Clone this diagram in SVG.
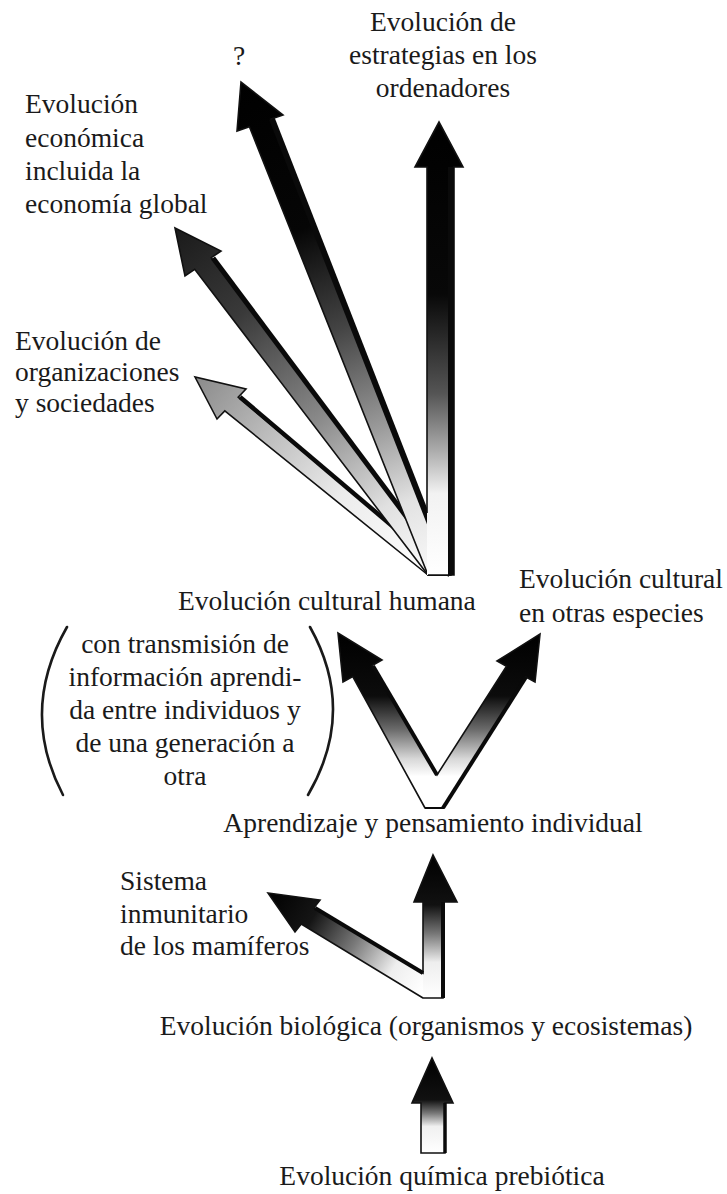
<svg xmlns="http://www.w3.org/2000/svg" width="727" height="1194" viewBox="0 0 727 1194">
<style>
.t{font-family:"Liberation Serif","Times New Roman",serif;font-size:27.5px;fill:#1a1a1a}
.m{text-anchor:middle}
.ol{fill:none;stroke:#111;stroke-width:1.6;stroke-linejoin:miter}
.th{fill:none;stroke:#0a0a0a;stroke-linecap:butt}
.nf{stroke:none}
.par{fill:none;stroke:#1a1a1a;stroke-width:2.6;stroke-linecap:round}
</style>
<defs>
<linearGradient id="gO" gradientUnits="userSpaceOnUse" x1="195" y1="377" x2="439" y2="575">
<stop offset="0" stop-color="#8a8a8a"/><stop offset="0.3" stop-color="#bdbdbd"/><stop offset="0.6" stop-color="#ececec"/><stop offset="1" stop-color="#fff"/>
</linearGradient>
<linearGradient id="gE" gradientUnits="userSpaceOnUse" x1="175" y1="228" x2="439" y2="575">
<stop offset="0" stop-color="#1a1a1a"/><stop offset="0.25" stop-color="#3a3a3a"/><stop offset="0.55" stop-color="#8a8a8a"/><stop offset="0.8" stop-color="#e0e0e0"/><stop offset="1" stop-color="#fff"/>
</linearGradient>
<linearGradient id="gQ" gradientUnits="userSpaceOnUse" x1="241" y1="82" x2="439" y2="575">
<stop offset="0" stop-color="#000"/><stop offset="0.3" stop-color="#060606"/><stop offset="0.5" stop-color="#444"/><stop offset="0.7" stop-color="#9a9a9a"/><stop offset="0.85" stop-color="#e2e2e2"/><stop offset="1" stop-color="#fafafa"/>
</linearGradient>
<linearGradient id="gV" gradientUnits="userSpaceOnUse" x1="0" y1="122" x2="0" y2="575">
<stop offset="0" stop-color="#000"/><stop offset="0.38" stop-color="#080808"/><stop offset="0.6" stop-color="#555"/><stop offset="0.72" stop-color="#a8a8a8"/><stop offset="0.82" stop-color="#f2f2f2"/><stop offset="1" stop-color="#fff"/>
</linearGradient>
<linearGradient id="gM" gradientUnits="userSpaceOnUse" x1="0" y1="633" x2="0" y2="808">
<stop offset="0" stop-color="#000"/><stop offset="0.36" stop-color="#0c0c0c"/><stop offset="0.55" stop-color="#6a6a6a"/><stop offset="0.72" stop-color="#d8d8d8"/><stop offset="0.82" stop-color="#fff"/><stop offset="1" stop-color="#fff"/>
</linearGradient>
<linearGradient id="gBV" gradientUnits="userSpaceOnUse" x1="0" y1="855" x2="0" y2="998">
<stop offset="0" stop-color="#000"/><stop offset="0.35" stop-color="#111"/><stop offset="0.55" stop-color="#777"/><stop offset="0.75" stop-color="#eee"/><stop offset="1" stop-color="#fff"/>
</linearGradient>
<linearGradient id="gBL" gradientUnits="userSpaceOnUse" x1="268" y1="893" x2="423" y2="990">
<stop offset="0" stop-color="#000"/><stop offset="0.28" stop-color="#151515"/><stop offset="0.55" stop-color="#7a7a7a"/><stop offset="0.8" stop-color="#eee"/><stop offset="1" stop-color="#fff"/>
</linearGradient>
<linearGradient id="gB" gradientUnits="userSpaceOnUse" x1="0" y1="1058" x2="0" y2="1153">
<stop offset="0" stop-color="#000"/><stop offset="0.44" stop-color="#111"/><stop offset="0.58" stop-color="#777"/><stop offset="0.72" stop-color="#f0f0f0"/><stop offset="1" stop-color="#fff"/>
</linearGradient>
</defs>
<rect width="727" height="1194" fill="#fff"/>

<g id="connectors">
  <g id="fan">
    <polygon fill="url(#gO)" class="nf" points="428,575 224.8,410.9 217,419 195,377 246,389 238.2,397.1 450,575"/>
    <polygon class="ol" points="428,575 224.8,410.9 217,419 195,377 246,389 238.2,397.1 450,575"/>
    <line class="th" stroke-width="4.5" x1="240" y1="397" x2="450" y2="575"/>
    <polygon fill="url(#gE)" class="nf" points="428,575 194.7,269.3 185,276 175,228 221,251 211.3,257.7 450,575"/>
    <polygon class="ol" points="428,575 194.7,269.3 185,276 175,228 221,251 211.3,257.7 450,575"/>
    <line class="th" stroke-width="5" x1="213" y1="258" x2="450" y2="575"/>
    <polygon fill="url(#gQ)" class="nf" points="428,575 249.4,126.7 237,131 241,82 283,115 270.6,119.3 450,575"/>
    <polygon class="ol" points="428,575 249.4,126.7 237,131 241,82 283,115 270.6,119.3 450,575"/>
    <line class="th" stroke-width="6" x1="272" y1="119" x2="450" y2="575"/>
    <polygon fill="url(#gV)" class="nf" points="427,575 427,167 415,167 439,122 463,167 454,167 454,575"/>
    <path class="ol" d="M427,513 L427,167 L415,167 L439,122 L463,167 L454,167 L454,575 L428,575"/>
    <line class="th" stroke-width="6" x1="451" y1="167" x2="451" y2="575"/>
  </g>
  <g id="v-arrows">
    <polygon fill="url(#gM)" class="nf" points="425,808 352.75,676.5 343,682 338,633 382,660 372.25,665.5 437,775 506.5,666.25 497,661 540,634 535,682 525.5,676.75 443,808"/>
    <polygon class="ol" points="425,808 352.75,676.5 343,682 338,633 382,660 372.25,665.5 437,775 506.5,666.25 497,661 540,634 535,682 525.5,676.75 443,808"/>
    <line class="th" stroke-width="4" x1="373" y1="666" x2="437" y2="775"/>
    <line class="th" stroke-width="4" x1="526" y1="677" x2="443" y2="808"/>
    <line class="th" stroke-width="2" x1="425" y1="808" x2="444" y2="808"/>
  </g>
  <g id="l-arrows">
    <polygon fill="url(#gBL)" class="nf" points="423,998 301.25,924 295,932 268,893 320,900 313.75,908 423,973 433,973 433,998"/>
    <polygon fill="url(#gBV)" class="nf" points="423,998 423,902 414,902 433,855 457,902 443,902 443,998"/>
    <path class="ol" d="M423,998 L301.25,924 L295,932 L268,893 L320,900 L313.75,908 L423,973 L423,902 L414,902 L433,855 L457,902 L443,902 L443,998 Z"/>
    <line class="th" stroke-width="4" x1="315" y1="908" x2="423" y2="973"/>
    <line class="th" stroke-width="4" x1="443" y1="902" x2="443" y2="998"/>
  </g>
  <g id="bottom-arrow">
    <polygon fill="url(#gB)" class="nf" points="421,1153 421,1103 412,1103 432,1058 453,1103 445,1103 445,1153"/>
    <polygon class="ol" points="421,1153 421,1103 412,1103 432,1058 453,1103 445,1103 445,1153"/>
    <line class="th" stroke-width="3.5" x1="445" y1="1103" x2="445" y2="1153"/>
  </g>
</g>

<g id="n-ordenadores">
  <text class="t m" x="443" y="31">Evolución de</text>
  <text class="t m" x="443" y="64">estrategias en los</text>
  <text class="t m" x="443" y="97">ordenadores</text>
</g>
<g id="n-question"><text class="t m" x="239" y="65">?</text></g>
<g id="n-economica">
  <text class="t" x="25" y="113">Evolución</text>
  <text class="t" x="25" y="147">económica</text>
  <text class="t" x="25" y="180">incluida la</text>
  <text class="t" x="25" y="213">economía global</text>
</g>
<g id="n-organizaciones">
  <text class="t" x="15" y="350">Evolución de</text>
  <text class="t" x="15" y="381">organizaciones</text>
  <text class="t" x="15" y="412">y sociedades</text>
</g>
<g id="n-cultural-humana"><text class="t" x="178" y="610">Evolución cultural humana</text></g>
<g id="n-cultural-otras">
  <text class="t" x="519" y="588">Evolución cultural</text>
  <text class="t" x="519" y="622">en otras especies</text>
</g>
<g id="n-transmision">
  <path class="par" d="M67,627 Q19,711 63,795"/>
  <path class="par" d="M310,627 Q357,711 308,795"/>
  <text class="t m" x="185" y="653">con transmisión de</text>
  <text class="t m" x="185" y="686">información aprendi-</text>
  <text class="t m" x="185" y="719">da entre individuos y</text>
  <text class="t m" x="185" y="752">de una generación a</text>
  <text class="t m" x="185" y="785">otra</text>
</g>
<g id="n-aprendizaje"><text class="t m" x="433" y="832">Aprendizaje y pensamiento individual</text></g>
<g id="n-inmunitario">
  <text class="t" x="120" y="890">Sistema</text>
  <text class="t" x="120" y="923">inmunitario</text>
  <text class="t" x="120" y="955">de los mamíferos</text>
</g>
<g id="n-biologica"><text class="t m" x="426" y="1035">Evolución biológica (organismos y ecosistemas)</text></g>
<g id="n-quimica"><text class="t m" x="442" y="1185">Evolución química prebiótica</text></g>
</svg>
